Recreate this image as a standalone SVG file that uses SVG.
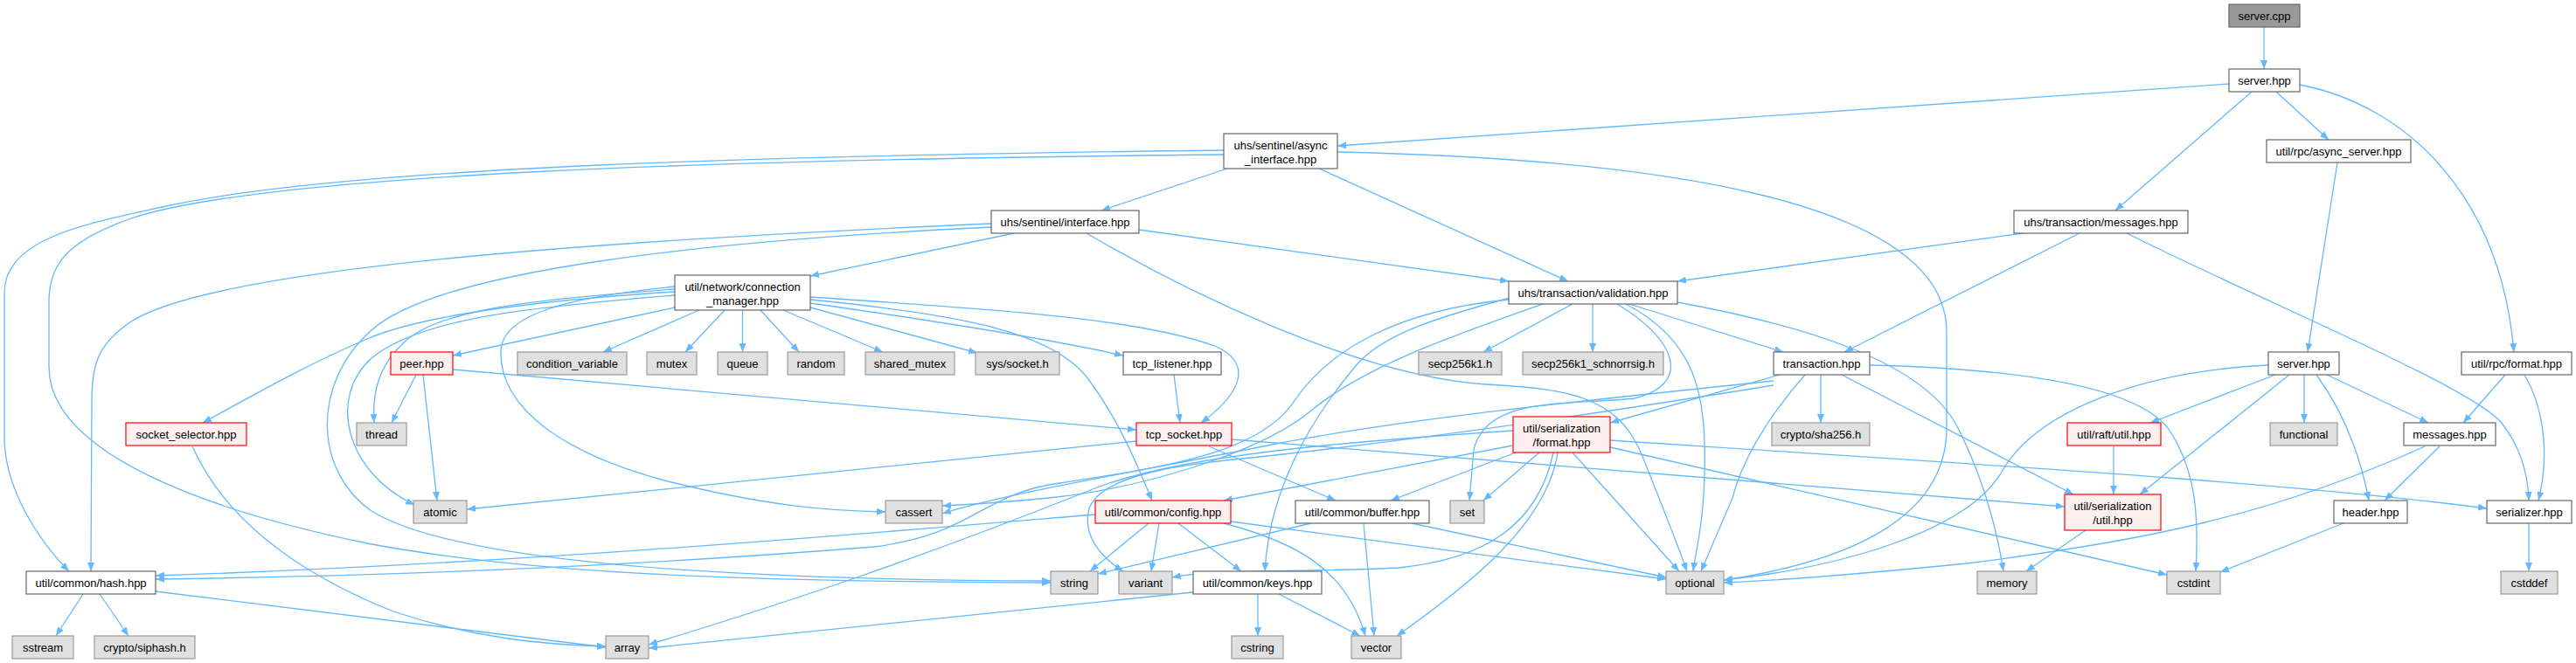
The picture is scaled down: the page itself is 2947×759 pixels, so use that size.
<svg xmlns="http://www.w3.org/2000/svg" width="2947" height="759" viewBox="0 0 2947 759">
<style>
.e path{fill:none;stroke:#63b8ff;stroke-width:1.3;marker-end:url(#a)}
rect{stroke-width:1.2}
.w{fill:#ffffff;stroke:#666666}
.g{fill:#e0e0e0;stroke:#999999}
.r{fill:#fff0f0;stroke:#ff0000}
.k{fill:#999999;stroke:#666666}
text{font-family:"Liberation Sans",Arial,Helvetica,sans-serif;font-size:13px;text-anchor:middle;fill:#000000}
</style>
<defs>
<marker id="a" viewBox="0 0 10 8" markerWidth="10" markerHeight="8" refX="10" refY="4" orient="auto" markerUnits="userSpaceOnUse">
<path d="M0,0 L10,4 L0,8 z" fill="#63b8ff"/>
</marker>
</defs>
<rect width="2947" height="759" fill="#ffffff"/>
<g id="connectors" class="e">
<path d="M2590,31 L2590,79"/>
<path d="M2550,96 L1530,167"/>
<path d="M2576,105 L2420,241"/>
<path d="M2604,105 L2664,160"/>
<path d="M2631,97 C2750,120 2860,220 2876,403"/>
<path d="M1404,193 L1260,241"/>
<path d="M1509,193 L1794,322"/>
<path d="M1530,174 C1900,182 2227,230 2227,380 L2227,490 C2227,600 2100,645 1972,664"/>
<path d="M1400,172 C900,178 400,190 190,236 C100,256 5,272 5,335 L5,500 C5,560 45,620 79,654"/>
<path d="M1400,177 C800,183 300,200 150,250 C80,275 56,300 56,345 L56,420 C56,520 240,585 420,622 C620,660 900,666 1202,667"/>
<path d="M1160,267 L927,316"/>
<path d="M1303,263 L1726,322"/>
<path d="M1134,256 C700,275 250,305 150,368 C110,395 105,420 105,460 L104,654"/>
<path d="M1134,260 C800,276 500,310 425,378 C355,440 360,540 425,585 C530,650 900,664 1202,665"/>
<path d="M1243,267 C1350,330 1550,430 1700,440 C1790,445 1850,452 1878,520 C1898,570 1918,620 1930,654"/>
<path d="M2314,267 L1919,322"/>
<path d="M2379,267 L2110,403"/>
<path d="M2433,267 C2600,350 2820,440 2860,482 C2885,512 2892,545 2893,573"/>
<path d="M2674,186 L2640,403"/>
<path d="M2866,429 L2818,484"/>
<path d="M2888,429 C2912,470 2916,525 2904,573"/>
<path d="M772,334 C600,345 480,362 420,388 C345,420 280,458 232,484"/>
<path d="M772,331 C600,343 500,356 462,392 C432,420 426,450 428,484"/>
<path d="M772,338 C600,352 480,365 425,410 C375,455 395,540 474,578"/>
<path d="M772,352 L518,407"/>
<path d="M800,355 L690,403"/>
<path d="M829,355 L784,403"/>
<path d="M849.5,355 L849.5,403"/>
<path d="M870,355 L914,403"/>
<path d="M896,355 L1010,403"/>
<path d="M927,352 L1118,404"/>
<path d="M927,347 C1060,366 1200,388 1285,407"/>
<path d="M927,340 C1100,352 1300,362 1392,397 C1440,420 1410,458 1374,484"/>
<path d="M772,328 C650,340 576,360 573,400 C570,470 650,520 760,550 C880,580 950,585 1013,586"/>
<path d="M927,343 C1100,360 1200,380 1242,430 C1280,480 1300,530 1318,573"/>
<path d="M476,429 L448,484"/>
<path d="M484,429 L500,573"/>
<path d="M518,423 L1300,492"/>
<path d="M220,511 C260,600 350,660 450,700 C540,730 620,738 693,740"/>
<path d="M1343,429 L1350,484"/>
<path d="M1300,505 L534,583"/>
<path d="M1383,511 L1528,573"/>
<path d="M1409,503 L2362,580"/>
<path d="M1799,348 L1697,403"/>
<path d="M1822,348 L1822,403"/>
<path d="M1864,348 L2040,403"/>
<path d="M1860,348 C1940,390 1952,450 1950,540 C1949,600 1940,630 1937,654"/>
<path d="M1850,348 C1920,390 1935,440 1870,456 C1800,464 1700,452 1686,515 L1681,573"/>
<path d="M1726,343 C1600,355 1520,400 1480,460 C1440,520 1330,535 1200,555 C1120,570 1110,612 1000,626 C700,650 400,660 178,663"/>
<path d="M1919,346 C2050,370 2200,410 2240,490 C2270,550 2285,610 2292,654"/>
<path d="M1727,341 C1650,362 1580,382 1550,420 C1500,480 1452,560 1447,654"/>
<path d="M1765,348 C1660,385 1560,420 1500,470 C1440,520 1300,560 1200,570 C1140,576 1100,578 1078,579"/>
<path d="M2029,436 C1800,460 1600,480 1450,510 C1300,540 1150,565 1078,588"/>
<path d="M2029,441 C1850,470 1650,500 1450,522 C1350,532 1262,542 1246,582 C1238,612 1258,637 1285,654"/>
<path d="M2036,429 L1842,484"/>
<path d="M2083,429 L2083,484"/>
<path d="M2065,429 C2020,480 1992,530 1982,570 L1946,654"/>
<path d="M2107,429 L2372,566"/>
<path d="M2139,418 C2300,422 2440,440 2480,490 C2515,540 2515,600 2512,654"/>
<path d="M1731,510 L1400,573"/>
<path d="M1731,493 C1550,505 1350,520 1250,560 C1050,640 900,690 742,738"/>
<path d="M1734,518 L1591,573"/>
<path d="M1761,518 L1697,573"/>
<path d="M1799,518 L1921,654"/>
<path d="M1782,518 C1770,600 1680,670 1598,728"/>
<path d="M1777,518 C1760,600 1700,640 1600,650 C1480,656 1400,650 1341,661"/>
<path d="M1842,512 L2479,658"/>
<path d="M1842,504 C2200,528 2600,550 2845,582"/>
<path d="M1314,599 L1247,654"/>
<path d="M1326,599 L1317,654"/>
<path d="M1348,599 L1420,654"/>
<path d="M1253,589 C1000,610 600,645 178,659"/>
<path d="M1408,597 L1906,663"/>
<path d="M1400,599 C1480,620 1540,650 1562,728"/>
<path d="M1365,678 L742,742"/>
<path d="M1439,680 L1439,728"/>
<path d="M1463,680 L1556,728"/>
<path d="M1560,599 L1572,728"/>
<path d="M1615,599 L1906,661"/>
<path d="M1500,599 L1256,657"/>
<path d="M95,680 L64,728"/>
<path d="M114,680 L147,728"/>
<path d="M178,677 L693,741"/>
<path d="M2603,429 L2460,484"/>
<path d="M2636,429 L2636,484"/>
<path d="M2662,429 L2778,484"/>
<path d="M2650,429 C2680,470 2700,520 2710,573"/>
<path d="M2619,429 L2448,566"/>
<path d="M2595,418 C2450,425 2330,470 2290,540 C2250,610 2100,650 1972,664"/>
<path d="M2418,511 L2418,566"/>
<path d="M2791,511 L2728,573"/>
<path d="M2774,511 C2600,590 2450,620 2250,645 C2100,660 2020,665 1972,667"/>
<path d="M2386,607 L2318,654"/>
<path d="M2681,599 L2540,655"/>
<path d="M2893,599 L2893,654"/>
</g>
<g id="n_server_cpp"><rect class="k" x="2550" y="5" width="81" height="26"/><text x="2590.5" y="22.5">server.cpp</text></g>
<g id="n_server_hpp"><rect class="w" x="2550" y="79" width="81" height="26"/><text x="2590.5" y="96.5">server.hpp</text></g>
<g id="n_async_server"><rect class="w" x="2593" y="160" width="165" height="26"/><text x="2675.5" y="177.5">util/rpc/async_server.hpp</text></g>
<g id="n_async_interface"><rect class="w" x="1400" y="153" width="130" height="40"/><text x="1465" y="170.5">uhs/sentinel/async</text><text x="1465" y="186.5">_interface.hpp</text></g>
<g id="n_tx_messages"><rect class="w" x="2304" y="241" width="199" height="26"/><text x="2403.5" y="258.5">uhs/transaction/messages.hpp</text></g>
<g id="n_interface"><rect class="w" x="1134" y="241" width="169" height="26"/><text x="1218.5" y="258.5">uhs/sentinel/interface.hpp</text></g>
<g id="n_validation"><rect class="w" x="1726" y="322" width="193" height="26"/><text x="1822.5" y="339.5">uhs/transaction/validation.hpp</text></g>
<g id="n_conn_manager"><rect class="w" x="772" y="315" width="155" height="40"/><text x="849.5" y="332.5">util/network/connection</text><text x="849.5" y="348.5">_manager.hpp</text></g>
<g id="n_peer"><rect class="r" x="447" y="403" width="71" height="26"/><text x="482.5" y="420.5">peer.hpp</text></g>
<g id="n_condition_variable"><rect class="g" x="592" y="403" width="125" height="26"/><text x="654.5" y="420.5">condition_variable</text></g>
<g id="n_mutex"><rect class="g" x="740" y="403" width="57" height="26"/><text x="768.5" y="420.5">mutex</text></g>
<g id="n_queue"><rect class="g" x="821" y="403" width="57" height="26"/><text x="849.5" y="420.5">queue</text></g>
<g id="n_random"><rect class="g" x="901" y="403" width="65" height="26"/><text x="933.5" y="420.5">random</text></g>
<g id="n_shared_mutex"><rect class="g" x="990" y="403" width="102" height="26"/><text x="1041" y="420.5">shared_mutex</text></g>
<g id="n_sys_socket"><rect class="g" x="1116" y="403" width="96" height="26"/><text x="1164" y="420.5">sys/socket.h</text></g>
<g id="n_tcp_listener"><rect class="w" x="1285" y="403" width="112" height="26"/><text x="1341" y="420.5">tcp_listener.hpp</text></g>
<g id="n_secp256k1"><rect class="g" x="1623" y="403" width="95" height="26"/><text x="1670.5" y="420.5">secp256k1.h</text></g>
<g id="n_schnorrsig"><rect class="g" x="1742" y="403" width="161" height="26"/><text x="1822.5" y="420.5">secp256k1_schnorrsig.h</text></g>
<g id="n_transaction"><rect class="w" x="2029" y="403" width="110" height="26"/><text x="2084" y="420.5">transaction.hpp</text></g>
<g id="n_server_hpp2"><rect class="w" x="2595" y="403" width="81" height="26"/><text x="2635.5" y="420.5">server.hpp</text></g>
<g id="n_rpc_format"><rect class="w" x="2816" y="403" width="126" height="26"/><text x="2879" y="420.5">util/rpc/format.hpp</text></g>
<g id="n_socket_selector"><rect class="r" x="144" y="484" width="138" height="26"/><text x="213" y="501.5">socket_selector.hpp</text></g>
<g id="n_thread"><rect class="g" x="408" y="484" width="57" height="26"/><text x="436.5" y="501.5">thread</text></g>
<g id="n_tcp_socket"><rect class="r" x="1300" y="484" width="109" height="26"/><text x="1354.5" y="501.5">tcp_socket.hpp</text></g>
<g id="n_sha256"><rect class="g" x="2027" y="484" width="112" height="26"/><text x="2083" y="501.5">crypto/sha256.h</text></g>
<g id="n_raft_util"><rect class="r" x="2365" y="484" width="107" height="26"/><text x="2418.5" y="501.5">util/raft/util.hpp</text></g>
<g id="n_functional"><rect class="g" x="2597" y="484" width="77" height="26"/><text x="2635.5" y="501.5">functional</text></g>
<g id="n_messages"><rect class="w" x="2750" y="484" width="105" height="26"/><text x="2802.5" y="501.5">messages.hpp</text></g>
<g id="n_ser_format"><rect class="r" x="1731" y="477" width="111" height="41"/><text x="1786.5" y="494.5">util/serialization</text><text x="1786.5" y="510.5">/format.hpp</text></g>
<g id="n_ser_util"><rect class="r" x="2362" y="566" width="110" height="41"/><text x="2417" y="583.5">util/serialization</text><text x="2417" y="599.5">/util.hpp</text></g>
<g id="n_atomic"><rect class="g" x="473" y="573" width="61" height="26"/><text x="503.5" y="590.5">atomic</text></g>
<g id="n_cassert"><rect class="g" x="1013" y="573" width="65" height="26"/><text x="1045.5" y="590.5">cassert</text></g>
<g id="n_config"><rect class="r" x="1253" y="573" width="155" height="26"/><text x="1330.5" y="590.5">util/common/config.hpp</text></g>
<g id="n_buffer"><rect class="w" x="1482" y="573" width="153" height="26"/><text x="1558.5" y="590.5">util/common/buffer.hpp</text></g>
<g id="n_set"><rect class="g" x="1659" y="573" width="39" height="26"/><text x="1678.5" y="590.5">set</text></g>
<g id="n_header"><rect class="w" x="2670" y="573" width="84" height="26"/><text x="2712" y="590.5">header.hpp</text></g>
<g id="n_serializer"><rect class="w" x="2845" y="573" width="97" height="26"/><text x="2893.5" y="590.5">serializer.hpp</text></g>
<g id="n_hash"><rect class="w" x="30" y="654" width="148" height="26"/><text x="104" y="671.5">util/common/hash.hpp</text></g>
<g id="n_string"><rect class="g" x="1202" y="654" width="54" height="26"/><text x="1229" y="671.5">string</text></g>
<g id="n_variant"><rect class="g" x="1280" y="654" width="61" height="26"/><text x="1310.5" y="671.5">variant</text></g>
<g id="n_keys"><rect class="w" x="1365" y="654" width="147" height="26"/><text x="1438.5" y="671.5">util/common/keys.hpp</text></g>
<g id="n_optional"><rect class="g" x="1906" y="654" width="66" height="26"/><text x="1939" y="671.5">optional</text></g>
<g id="n_memory"><rect class="g" x="2262" y="654" width="68" height="26"/><text x="2296" y="671.5">memory</text></g>
<g id="n_cstdint"><rect class="g" x="2479" y="654" width="61" height="26"/><text x="2509.5" y="671.5">cstdint</text></g>
<g id="n_cstddef"><rect class="g" x="2861" y="654" width="65" height="26"/><text x="2893.5" y="671.5">cstddef</text></g>
<g id="n_sstream"><rect class="g" x="14" y="728" width="70" height="26"/><text x="49" y="745.5">sstream</text></g>
<g id="n_siphash"><rect class="g" x="108" y="728" width="115" height="26"/><text x="165.5" y="745.5">crypto/siphash.h</text></g>
<g id="n_array"><rect class="g" x="693" y="728" width="49" height="26"/><text x="717.5" y="745.5">array</text></g>
<g id="n_cstring"><rect class="g" x="1409" y="728" width="59" height="26"/><text x="1438.5" y="745.5">cstring</text></g>
<g id="n_vector"><rect class="g" x="1546" y="728" width="57" height="26"/><text x="1574.5" y="745.5">vector</text></g>
</svg>
